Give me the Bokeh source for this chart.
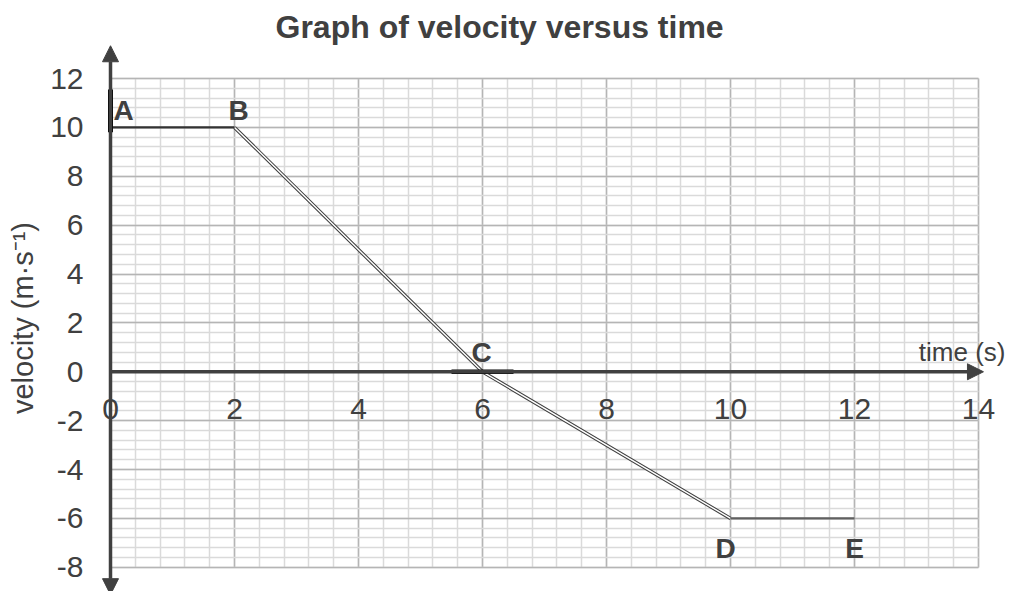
from bokeh.plotting import figure
from bokeh.models import (ColumnDataSource, Range1d, FixedTicker, SingleIntervalTicker,
                          Grid, LinearAxis, Arrow, NormalHead, Label)
from bokeh.core.properties import value
from bokeh.embed import file_html
from bokeh.resources import INLINE

# ---- data ----
time_s = [0, 2, 6, 10, 12]
velocity = [10, 10, 0, -6, -6]
point_labels = ["A", "B", "C", "D", "E"]

x_ticks = [0, 2, 4, 6, 8, 10, 12, 14]
x_tick_labels = ["0", "2", "4", "6", "8", "10", "12", "14"]
y_ticks = [-8, -6, -4, -2, 0, 2, 4, 6, 8, 10, 12]
y_tick_labels = ["-8", "-6", "-4", "-2", "0", "2", "4", "6", "8", "10", "12"]

# emphasis bars at A (on the velocity axis) and C (on the time axis)
mark_t0 = [0, 5.5]
mark_t1 = [0, 6.5]
mark_v0 = [9.8, 0]
mark_v1 = [11.55, 0]

# ---- styling ----
FONT = "Liberation Sans"
DARK = "#404040"
W, H = 1017, 591
X0_PX = 110.0    # pixel position of t = 0
PX_X = 62.0      # pixels per second
PX_Y = 24.44     # pixels per m/s
TOP_PX = 78.0    # pixel position of v = 12
TITLE_H = 44.0   # height of title panel (min_border_top)

x_start = -X0_PX / PX_X
y_end = 12 + (TOP_PX - TITLE_H) / PX_Y
y_start = y_end - (H - TITLE_H) / PX_Y

p = figure(width=W, height=H,
           x_range=Range1d(x_start, x_start + W / PX_X),
           y_range=Range1d(y_start, y_end),
           x_axis_type=None, y_axis_type=None,
           toolbar_location=None, output_backend="svg",
           min_border_left=0, min_border_right=0, min_border_top=int(TITLE_H),
           min_border_bottom=0,
           outline_line_color=None, background_fill_color="white", border_fill_color="white",
           title="Graph of velocity versus time")
p.title.text_font = FONT
p.title.text_font_size = "32px"
p.title.text_font_style = "bold"
p.title.text_color = DARK
p.title.align = "left"
p.title.offset = 275
p.title.standoff = 0

# grids
xt = SingleIntervalTicker(interval=2, num_minor_ticks=5)
yt = SingleIntervalTicker(interval=2, num_minor_ticks=5)
gx = Grid(dimension=0, ticker=xt, bounds=(min(x_ticks), max(x_ticks)),
          cross_bounds=(min(y_ticks), max(y_ticks)),
          grid_line_color="#b5b5b5", grid_line_width=1.5,
          minor_grid_line_color="#dadada", minor_grid_line_width=1.5)
gy = Grid(dimension=1, ticker=yt, bounds=(min(y_ticks), max(y_ticks)),
          cross_bounds=(min(x_ticks), max(x_ticks)),
          grid_line_color="#b5b5b5", grid_line_width=1.5,
          minor_grid_line_color="#dadada", minor_grid_line_width=1.5)
p.add_layout(gx)
p.add_layout(gy)

# axes
xaxis = LinearAxis(ticker=FixedTicker(ticks=x_ticks), fixed_location=0,
                   major_label_overrides={t: l for t, l in zip(x_ticks, x_tick_labels)},
                   axis_line_color=None, major_tick_in=0, major_tick_out=0,
                   minor_tick_in=0, minor_tick_out=0, major_label_standoff=27,
                   major_label_text_font=FONT, major_label_text_font_size="30px",
                   major_label_text_color=DARK)
p.add_layout(xaxis, "below")
yaxis = LinearAxis(ticker=FixedTicker(ticks=y_ticks), fixed_location=0,
                   major_label_overrides={t: l for t, l in zip(y_ticks, y_tick_labels)},
                   axis_line_color=None, major_tick_in=0, major_tick_out=0,
                   minor_tick_in=0, minor_tick_out=0, major_label_standoff=27,
                   major_label_text_font=FONT, major_label_text_font_size="30px",
                   major_label_text_color=DARK,
                   axis_label="velocity (m·s⁻¹)", axis_label_standoff=8,
                   axis_label_text_font=FONT, axis_label_text_font_size="29px",
                   axis_label_text_font_style="normal", axis_label_text_color=DARK)
p.add_layout(yaxis, "left")

# data line
p.line(time_s[1:4], velocity[1:4], line_color=DARK, line_width=3.5)
p.line(time_s[1:4], velocity[1:4], line_color="white", line_width=1.4)
p.line(time_s[:2], velocity[:2], line_color="#333333", line_width=2.2)
p.line(time_s[3:], velocity[3:], line_color="#606060", line_width=2.2)

# emphasis bars
p.segment(x0=mark_t0[:1], y0=mark_v0[:1], x1=mark_t1[:1], y1=mark_v1[:1],
          line_color="black", line_width=5)
p.segment(x0=mark_t0[1:], y0=mark_v0[1:], x1=mark_t1[1:], y1=mark_v1[1:],
          line_color="black", line_width=4.5)

# axis arrows
head = dict(size=16, fill_color=DARK, line_color=DARK)
p.add_layout(Arrow(end=NormalHead(**head), x_start=0, y_start=0,
                   x_end=max(x_ticks) + 0.08, y_end=0,
                   line_color=DARK, line_width=3.5))
p.add_layout(Arrow(start=NormalHead(**head), end=NormalHead(**head),
                   x_start=0, y_start=min(y_ticks) - 1.12,
                   x_end=0, y_end=max(y_ticks) + 1.34,
                   line_color=DARK, line_width=3.5))

# point labels
lab_src = ColumnDataSource(dict(
    x=time_s, y=velocity, text=point_labels,
    align=["left", "center", "center", "center", "center"],
    dx=[3, 4, -1, -5, 0], dy=[-17, -17, -19, 30, 30]))
p.text(x="x", y="y", text="text", source=lab_src, text_align="align",
       x_offset="dx", y_offset="dy", text_baseline="middle",
       text_font=value(FONT), text_font_size="28px", text_font_style="bold",
       text_color=DARK)

# time axis label
p.add_layout(Label(x=max(x_ticks), y=0, x_offset=27, y_offset=5, text="time (s)",
                   text_align="right", text_baseline="bottom",
                   text_font=FONT, text_font_size="26px", text_color=DARK))

open("out.html", "w").write(file_html(p, INLINE))
